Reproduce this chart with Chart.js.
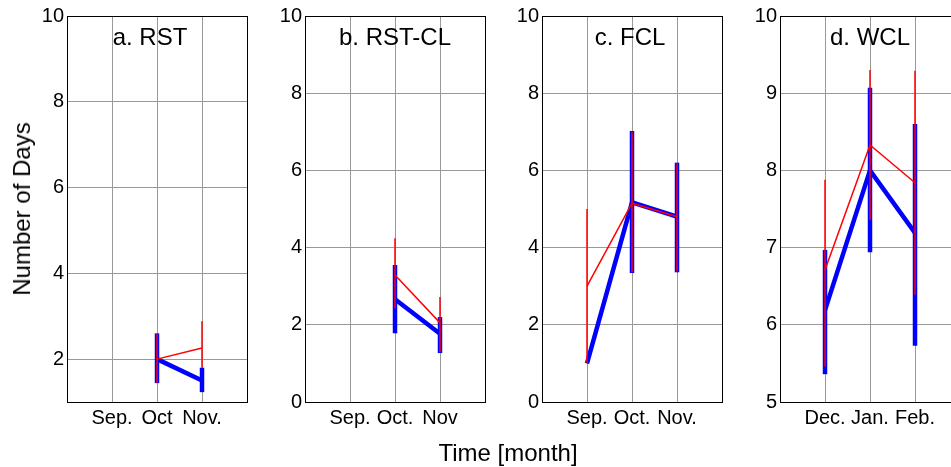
<!DOCTYPE html>
<html>
<head>
<meta charset="utf-8">
<script src="https://cdn.jsdelivr.net/npm/chart.js@4/dist/chart.umd.min.js"></script>
<style>
  body { margin: 0; width: 951px; height: 467px; overflow: hidden; background: #fff; position: relative;
         font-family: "Liberation Sans", Arial, sans-serif; }
  canvas { position: absolute; top: 0; }
  .lab { position: absolute; font-size: 24px; line-height: 1; color: #000; white-space: nowrap; }
  #ylab { left: 22px; top: 209px; transform: translate(-50%, -50%) rotate(-90deg); }
  #xlab { left: 508px; top: 453px; transform: translate(-50%, -50%); }
</style>
</head>
<body>
<canvas id="c0" width="227" height="440" style="left:22px"></canvas>
<canvas id="c1" width="227" height="440" style="left:260px"></canvas>
<canvas id="c2" width="227" height="440" style="left:497px"></canvas>
<canvas id="c3" width="227" height="440" style="left:735px"></canvas>
<div class="lab" id="ylab">Number of Days</div>
<div class="lab" id="xlab">Time [month]</div>
<script>
// month positions on the x axis (0..4 range)
const xPos = [1, 2, 3];
const titles = ['a. RST', 'b. RST-CL', 'c. FCL', 'd. WCL'];
const monthLabels = [
  ['Sep.', 'Oct', 'Nov.'],
  ['Sep.', 'Oct.', 'Nov'],
  ['Sep.', 'Oct.', 'Nov.'],
  ['Dec.', 'Jan.', 'Feb.']
];
const yMin = [1, 0, 0, 5];
const yMax = [10, 10, 10, 10];
const yTicks = [
  [2, 4, 6, 8, 10],
  [0, 2, 4, 6, 8, 10],
  [0, 2, 4, 6, 8, 10],
  [5, 6, 7, 8, 9, 10]
];

// blue series (thick): mean, lower and upper end of bar; red series (thin) likewise
const rstBlue = [null, 2.0, 1.5];
const rstBlueLo = [null, 1.44, 1.23];
const rstBlueHi = [null, 2.6, 1.8];
const rstRed = [null, 2.0, 2.26];
const rstRedLo = [null, 1.45, 1.8];
const rstRedHi = [null, 2.6, 2.88];

const rstclBlue = [null, 2.66, 1.77];
const rstclBlueLo = [null, 1.78, 1.27];
const rstclBlueHi = [null, 3.55, 2.2];
const rstclRed = [null, 3.29, 2.05];
const rstclRedLo = [null, 2.43, 1.3];
const rstclRedHi = [null, 4.24, 2.72];

const fclBlue = [1.0, 5.17, 4.8];
const fclBlueLo = [null, 3.34, 3.36];
const fclBlueHi = [null, 7.02, 6.2];
const fclRed = [3.0, 5.15, 4.8];
const fclRedLo = [1.0, 3.36, 3.38];
const fclRedHi = [5.0, 7.0, 6.18];

const wclBlue = [6.19, 8.0, 7.19];
const wclBlueLo = [5.36, 6.94, 5.73];
const wclBlueHi = [6.97, 9.07, 8.6];
const wclRed = [6.71, 8.33, 7.84];
const wclRedLo = [5.46, 7.36, 6.39];
const wclRedHi = [7.88, 9.3, 9.29];

const panels = [
  [rstBlue, rstBlueLo, rstBlueHi, rstRed, rstRedLo, rstRedHi],
  [rstclBlue, rstclBlueLo, rstclBlueHi, rstclRed, rstclRedLo, rstclRedHi],
  [fclBlue, fclBlueLo, fclBlueHi, fclRed, fclRedLo, fclRedHi],
  [wclBlue, wclBlueLo, wclBlueHi, wclRed, wclRedLo, wclRedHi]
];

// vertical error bars drawn right after their own line
const errorBars = {
  id: 'errorBars',
  afterDatasetDraw(chart, args) {
    const ds = chart.data.datasets[args.index];
    if (!ds.lo) return;
    const ctx = chart.ctx, x = chart.scales.x, y = chart.scales.y;
    ctx.save();
    ctx.strokeStyle = ds.borderColor;
    ctx.lineWidth = ds.barWidth;
    ds.lo.forEach((lo, i) => {
      if (lo == null) return;
      const px = x.getPixelForValue(xPos[i]);
      ctx.beginPath();
      ctx.moveTo(px, y.getPixelForValue(lo));
      ctx.lineTo(px, y.getPixelForValue(ds.hi[i]));
      ctx.stroke();
    });
    ctx.restore();
  }
};

// box around the plot and the panel title inside it
const boxTitle = {
  id: 'boxTitle',
  afterDraw(chart, args, opts) {
    const ctx = chart.ctx, a = chart.chartArea;
    ctx.save();
    ctx.strokeStyle = '#000';
    ctx.lineWidth = 1;
    ctx.strokeRect(Math.round(a.left) + 0.5, Math.round(a.top) + 0.5,
                   Math.round(a.right - a.left), Math.round(a.bottom - a.top));
    ctx.fillStyle = '#000';
    ctx.font = '24px "Liberation Sans", Arial, sans-serif';
    ctx.textAlign = 'center';
    ctx.textBaseline = 'alphabetic';
    ctx.fillText(opts.text, (a.left + a.right) / 2 + opts.dx, a.top + 29);
    ctx.restore();
  }
};

const titleDx = [-7, 0, -2, 0];

panels.forEach((p, k) => {
  const [bMean, bLo, bHi, rMean, rLo, rHi] = p;
  const pts = arr => xPos.map((x, i) => ({ x: x, y: arr[i] }));
  new Chart(document.getElementById('c' + k), {
    type: 'line',
    data: {
      // Chart.js paints the last dataset first, so the red one is listed first to end up on top
      datasets: [
        { data: pts(rMean), borderColor: '#ff0000', borderWidth: 1.5, pointRadius: 0,
          lo: rLo, hi: rHi, barWidth: 1.5, spanGaps: false },
        { data: pts(bMean), borderColor: '#0000ff', borderWidth: 4.5, pointRadius: 0,
          lo: bLo, hi: bHi, barWidth: 4.5, spanGaps: false }
      ]
    },
    options: {
      responsive: false,
      animation: false,
      layout: { padding: { top: 16, right: 2, left: 0, bottom: 0 } },
      plugins: {
        legend: { display: false },
        tooltip: { enabled: false },
        boxTitle: { text: titles[k], dx: titleDx[k] }
      },
      scales: {
        x: {
          type: 'linear', min: 0, max: 4,
          afterBuildTicks: s => { s.ticks = xPos.map(v => ({ value: v })); },
          afterFit: s => { s.height = 38; },
          grid: { color: '#999', lineWidth: 1, drawTicks: false },
          border: { display: false },
          ticks: {
            autoSkip: false, maxRotation: 0, padding: 4, color: '#000',
            font: { size: 20, family: '"Liberation Sans", Arial, sans-serif' },
            callback: v => monthLabels[k][v - 1]
          }
        },
        y: {
          min: yMin[k], max: yMax[k],
          afterBuildTicks: s => { s.ticks = yTicks[k].map(v => ({ value: v })); },
          afterFit: s => { s.width = 45; },
          grid: { color: '#999', lineWidth: 1, drawTicks: false },
          border: { display: false },
          ticks: {
            padding: 3, color: '#000',
            font: { size: 20, family: '"Liberation Sans", Arial, sans-serif' }
          }
        }
      }
    },
    plugins: [errorBars, boxTitle]
  });
});
</script>
</body>
</html>
